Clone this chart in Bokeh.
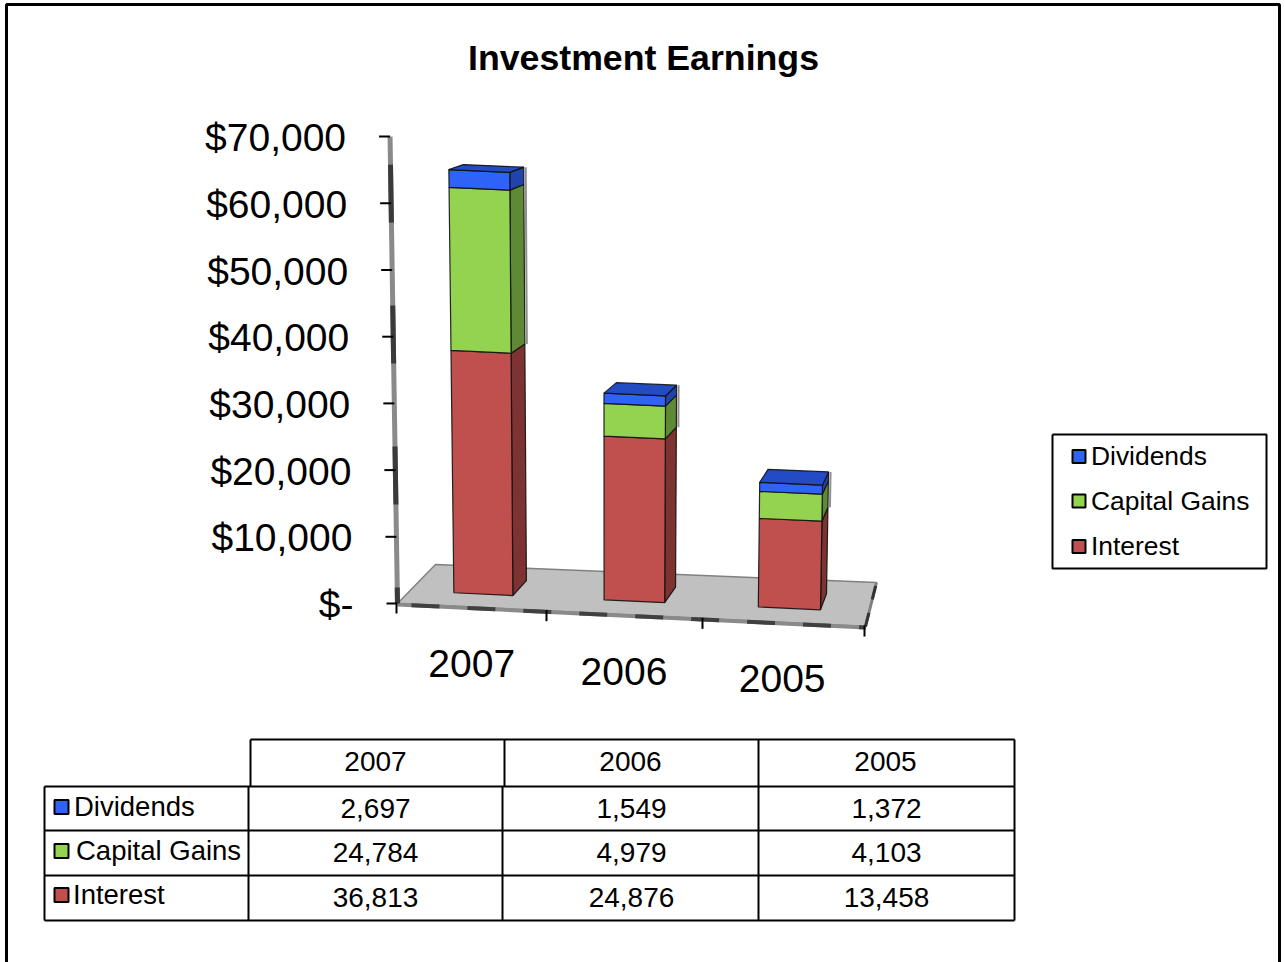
from bokeh.plotting import figure
from bokeh.embed import file_html
from bokeh.resources import INLINE
from bokeh.core.properties import value as V

# ---- data ----
title = "Investment Earnings"
years = ["2007", "2006", "2005"]
series_names = ["Dividends", "Capital Gains", "Interest"]
dividends = [2697, 1549, 1372]
capital_gains = [24784, 4979, 4103]
interest = [36813, 24876, 13458]
y_ticks = [0, 10000, 20000, 30000, 40000, 50000, 60000, 70000]
y_tick_labels = ["$-", "$10,000", "$20,000", "$30,000", "$40,000", "$50,000", "$60,000", "$70,000"]

FONT = V("Liberation Sans")
W, H = 1285, 962
FRONT = {"Dividends": "#2F62F7", "Capital Gains": "#94D350", "Interest": "#C0504D"}
SIDE = {"Dividends": "#2144AC", "Capital Gains": "#5F8A35", "Interest": "#7C3331"}
TOP = {"Dividends": "#234CC4"}

# x scale is in category units, y scale in dollars
PX_PER_CAT, PX_PER_USD, X0, Y0 = 147.0, 0.00667, 397.0, 603.0
def dx(px): return (px - X0) / PX_PER_CAT
def dy(py): return (Y0 - py) / PX_PER_USD

p = figure(width=W, height=H, output_backend="svg", toolbar_location=None,
           x_range=(dx(0), dx(W)), y_range=(dy(H), dy(0)),
           min_border=0, min_border_left=0, min_border_right=0, min_border_top=0, min_border_bottom=0,
           outline_line_color=None, background_fill_color="white", border_fill_color="white")
p.axis.visible = False
p.grid.visible = False


def project(c, d, v):
    """Perspective of the 3-D chart: category c, depth d (0..1), dollar value v -> page pixels."""
    k = v / 1000.0
    x = (397 + 147 * c + 3 * c * c) * (1 - d) + (435 + 147 * c) * d
    y = (603 + 7.67 * c) * (1 - d) + (564 + 6 * c) * d
    x += (x - 610) * 0.0005 * k
    y -= (6.67 - 0.2 * d - 0.2 * d * d) * k
    return x, y


def line(xs, ys, color="black", width=2, dash="solid"):
    p.line([dx(x) for x in xs], [dy(y) for y in ys], line_color=color, line_width=width,
           line_dash=dash, line_cap="butt")


def label(x, y, s, size, align="left", style="normal", baseline="middle"):
    p.text([dx(x)], [dy(y)], text=[s], text_font=FONT, text_font_size=f"{size}px", text_color="black",
           text_align=align, text_baseline=baseline, text_font_style=style)


def face(corners, fill, edge="#111111"):
    pts = [project(*c) for c in corners]
    p.patch([dx(a) for a, _ in pts], [dy(b) for _, b in pts], fill_color=fill,
            line_color=edge, line_width=1.2, line_alpha=0.9)


# page frame
line([6, 6, 1279, 1279], [H, 4, 4, H], width=3)
# title
label(643, 57, title, 35.7, align="center", style="bold")

# floor
corners = [(0, 0, 0), (3, 0, 0), (3, 1, 0), (0, 1, 0)]
pts = [project(*c) for c in corners]
p.patch([dx(a) for a, _ in pts], [dy(b) for _, b in pts], fill_color="#C0C0C0", line_color="#808080", line_width=1.5)
(ax, ay), (bx, by), (cx, cy), (ex, ey) = pts
line([ax, bx], [ay + 1, by + 1], color="#8a8a8a", width=4)
line([ax, bx], [ay + 1, by + 1], color="#404040", width=4, dash="0 14 28 14")
line([bx, cx], [by, cy], color="#808080", width=3)
line([bx, cx], [by, cy], color="#333333", width=3, dash="14 14")

# value axis wall edge and ticks
tx, ty = project(0, 0, y_ticks[-1])
bx0, by0 = project(0, 0, 0)
line([tx, bx0], [ty, by0], color="#8a8a8a", width=5)
line([tx, bx0], [ty, by0], color="#3a3a3a", width=5, dash="0 28 58 55")
for v, s in zip(y_ticks, y_tick_labels):
    x, y = project(0, 0, v)
    line([x - 11, x + (0 if v else -1)], [y, y], width=2)
    label(x - 44, y + 1, s, 39, align="right")

# category ticks and labels
for i in range(len(years) + 1):
    x, y = project(i, 0, 0)
    line([x - 1, x - 1], [y - 1, y + 10], width=2)
for i, s in enumerate(years):
    x, y = project(i + 0.5, 0, 0)
    label(x - i * 0.8, y + 56, s, 39, align="center")

# stacked bars
HW, D0, D1 = 0.198, 0.33, 0.70
for i in range(len(years)):
    c = i + 0.495
    base = 0
    stack = [("Interest", interest[i]), ("Capital Gains", capital_gains[i]), ("Dividends", dividends[i])]
    top_total = sum(val for _, val in stack)
    for name, val in stack:
        t = base + val
        face([(c + HW, D0, base), (c + HW, D1, base), (c + HW, D1, t), (c + HW, D0, t)], SIDE[name])
        face([(c - HW, D0, base), (c + HW, D0, base), (c + HW, D0, t), (c - HW, D0, t)], FRONT[name])
        base = t
    face([(c - HW, D0, top_total), (c + HW, D0, top_total), (c + HW, D1, top_total), (c - HW, D1, top_total)], TOP["Dividends"])
    x1, y1 = project(c + HW, D1, top_total)
    x2, y2 = project(c + HW, D1, interest[i])
    line([x1 + 2, x2 + 2], [y1, y2], color="#8f8f8f", width=2)

# legend
line([1052, 1266, 1266, 1052, 1052], [434, 434, 568, 568, 434], width=2)
for name, ym in zip(series_names, [456, 500.5, 546]):
    p.rect([dx(1078.5)], [dy(ym)], width=13 / PX_PER_CAT, height=13 / PX_PER_USD, fill_color=FRONT[name],
           line_color="black", line_width=2)
    label(1090.5, ym - 0.5, name, 26.4)

# data table
rows = [dividends, capital_gains, interest]
row_lines = [786, 830, 875, 920]
line([250, 1014], [739, 739], width=2)
for x in [250, 504, 758, 1014]:
    line([x, x], [739, 786], width=2)
for y in row_lines:
    line([44, 1014], [y, y], width=2)
for x in [44, 248, 502, 758, 1014]:
    line([x, x], [786, 920], width=2)
header_centers = [375, 630, 885]
col_centers = [375, 631, 886]
for s, x in zip(years, header_centers):
    label(x, 760.5, s, 28, align="center")
row_centers = [808, 852, 896.5]
for vals, ym in zip(rows, row_centers):
    for val, x in zip(vals, col_centers):
        label(x, ym, f"{val:,}", 28, align="center")
for name, ym, tx_ in zip(series_names, [806, 850, 894], [73.5, 75.5, 72.5]):
    p.rect([dx(61)], [dy(ym + 0.5)], width=14 / PX_PER_CAT, height=14 / PX_PER_USD, fill_color=FRONT[name],
           line_color="black", line_width=2)
    label(tx_, ym, name, 27.5)

html = file_html(p, INLINE)
html = html.replace("<head>", "<head><style>html,body{margin:0;padding:0;overflow:hidden}</style>", 1)
open("out.html", "w").write(html)
